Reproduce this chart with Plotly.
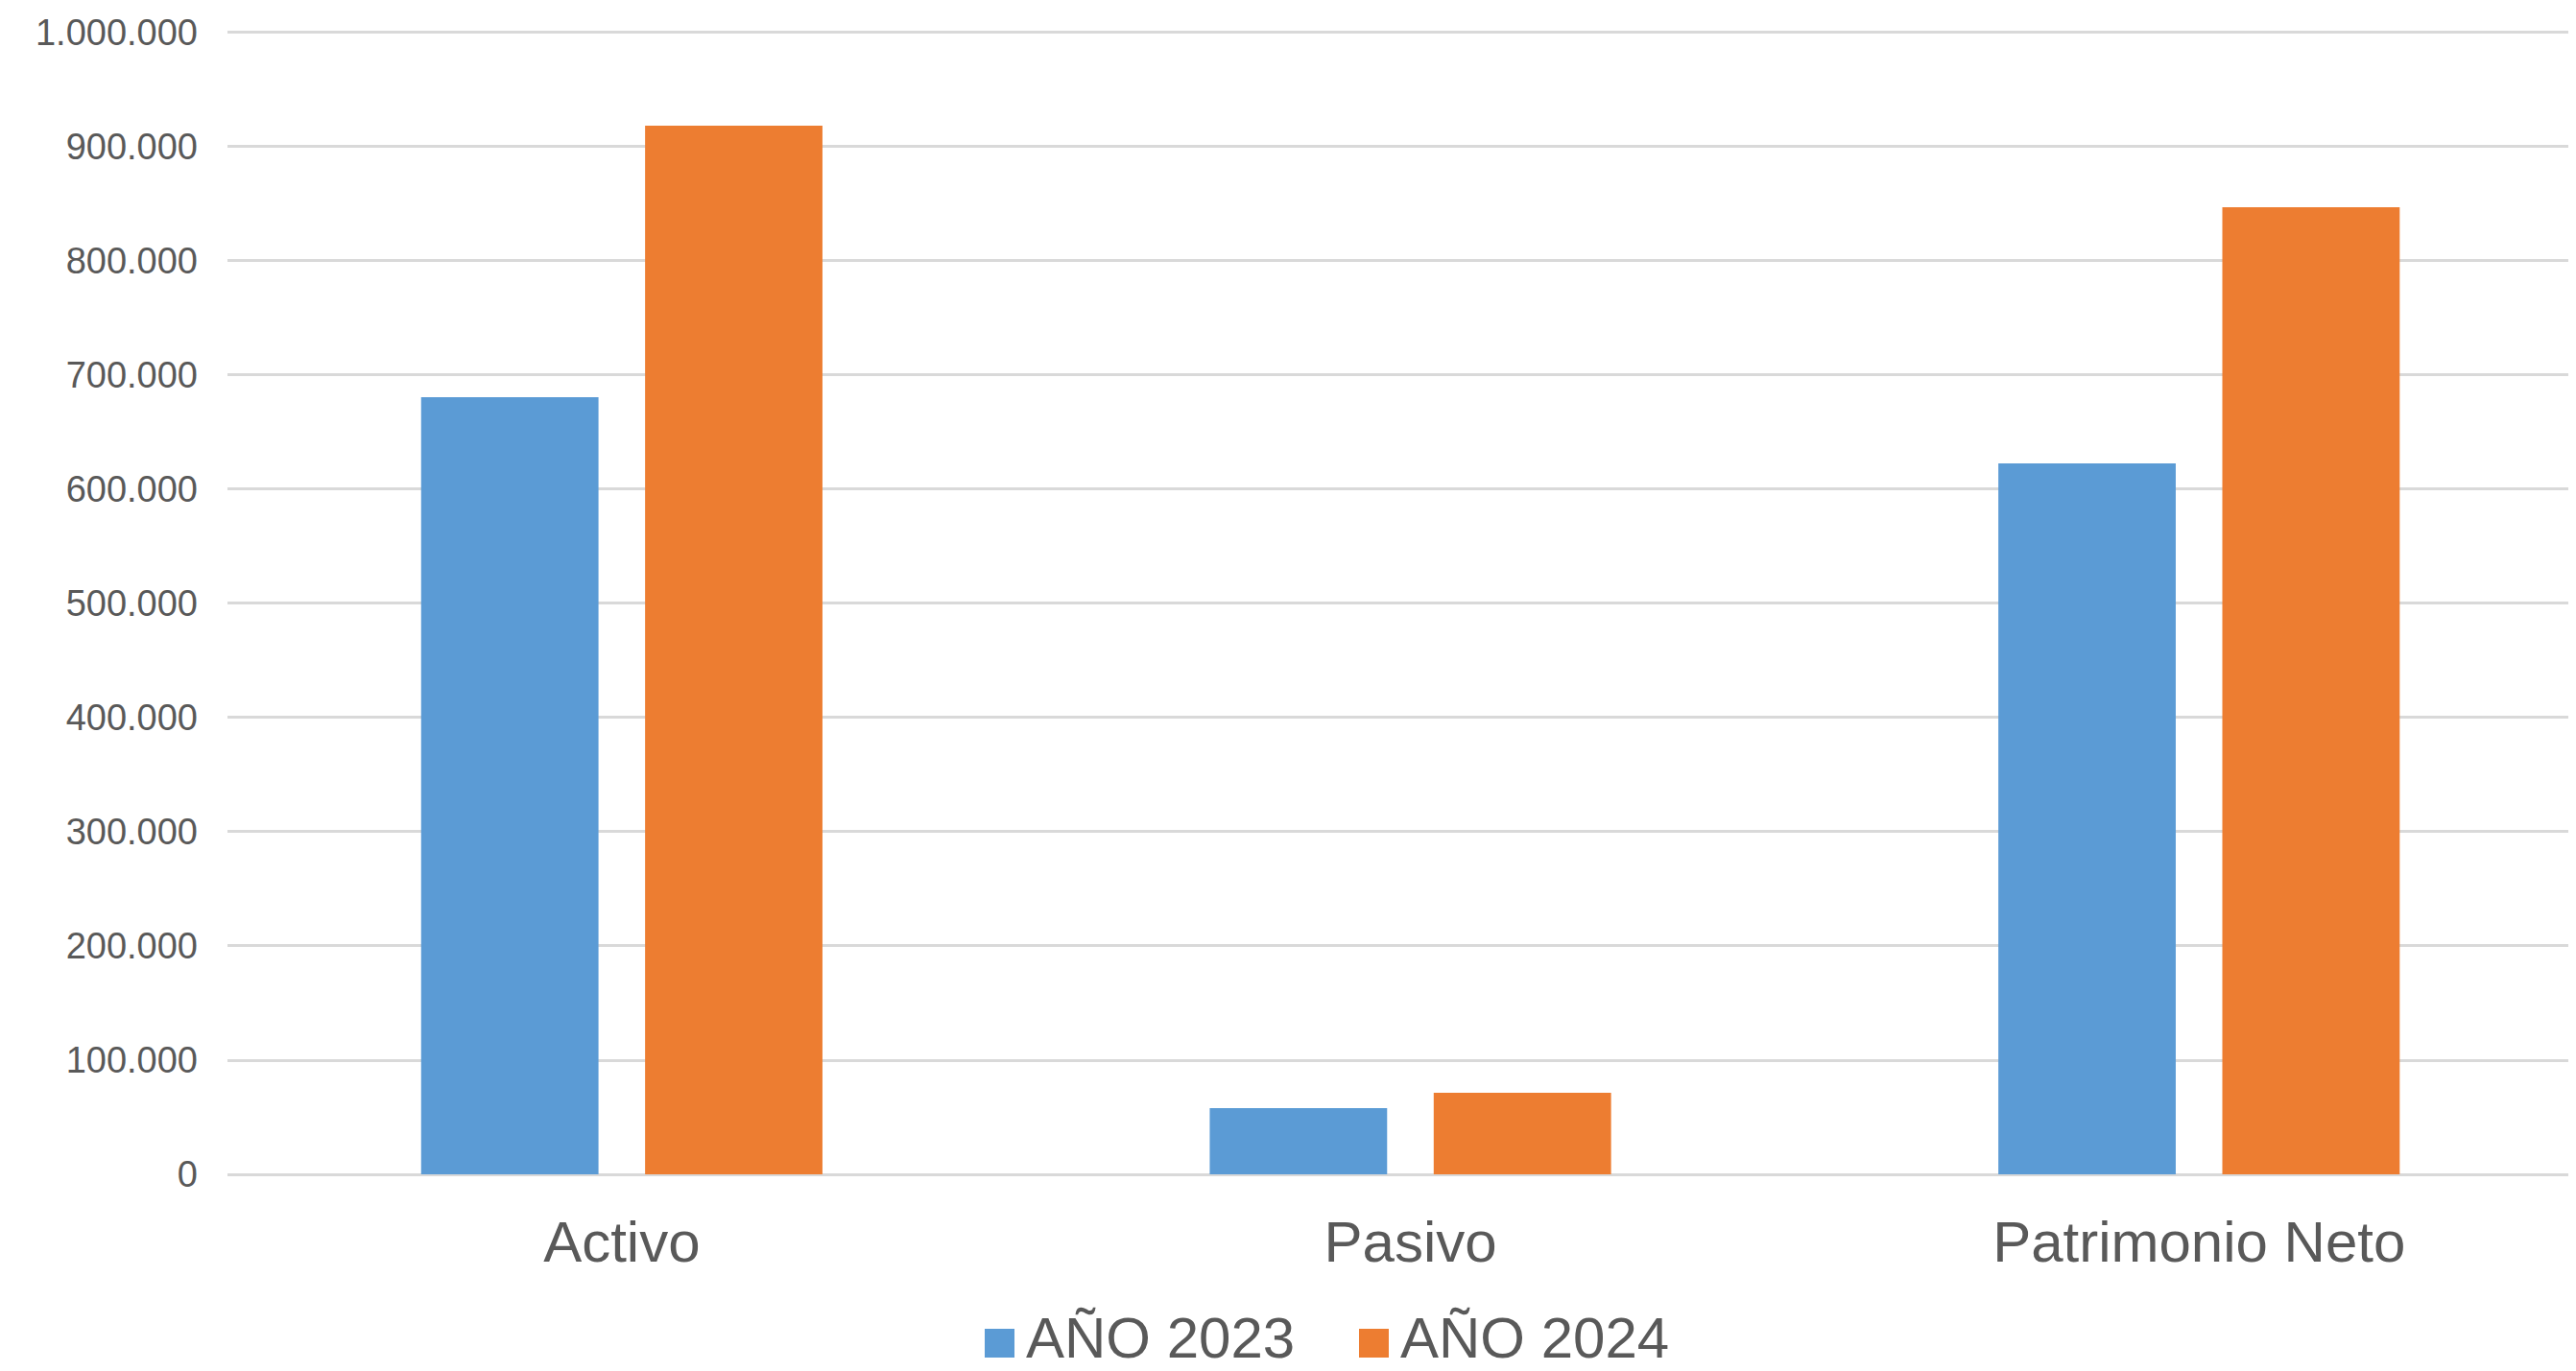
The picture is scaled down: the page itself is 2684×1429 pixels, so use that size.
import plotly.graph_objects as go

categories = ["Activo", "Pasivo", "Patrimonio Neto"]
series_names = ["AÑO 2023", "AÑO 2024"]
values_2023 = [680700, 58000, 622700]
values_2024 = [918400, 71400, 847000]
colors = ["#5B9BD5", "#ED7D31"]
y_ticks = list(range(0, 1000001, 100000))

OFF = 8  # default body margin of the html page
W, H = 2684 - OFF, 1429 - OFF
ML, MR, MT, MB = 237 - OFF, 0, 28 - OFF, 205
FONT = "Liberation Sans, Arial, sans-serif"
GRAY = "#595959"


def px(x):
    return (x - OFF - ML) / (W - ML - MR)


def py(y):
    return (H - MB - (y - OFF)) / (H - MT - MB)


fig = go.Figure()
for name, vals, col in zip(series_names, [values_2023, values_2024], colors):
    fig.add_trace(go.Bar(x=categories, y=vals, name=name, showlegend=False,
                         marker=dict(color=col, line=dict(width=0))))

# Legend drawn as squares + text (Excel-style large swatches)
legend_items = [(series_names[0], colors[0], 1026, 1070), (series_names[1], colors[1], 1416, 1460)]
for name, col, sx, tx in legend_items:
    fig.add_shape(type="rect", xref="paper", yref="paper",
                  x0=px(sx), x1=px(sx + 31), y0=py(1415), y1=py(1385),
                  fillcolor=col, line=dict(width=0))
    fig.add_annotation(xref="paper", yref="paper", x=px(tx - 2), y=py(1394),
                       xanchor="left", yanchor="middle", text=name, showarrow=False,
                       borderpad=0, font=dict(size=60, color=GRAY, family=FONT))

fig.update_layout(
    width=W, height=H, autosize=False,
    margin=dict(l=ML, r=MR, t=MT, b=MB, pad=0, autoexpand=False),
    paper_bgcolor="white", plot_bgcolor="white",
    barmode="group", bargap=0.432, bargroupgap=0.208,
    separators=",.",
    font=dict(family=FONT, color=GRAY),
    showlegend=False,
)
fig.update_xaxes(
    range=[-0.5, 2.478], showgrid=False, showline=False, zeroline=False,
    ticks="", tickfont=dict(size=60, color=GRAY, family=FONT), ticklabelstandoff=30,
)
fig.update_yaxes(
    range=[0, 1005000], tickvals=y_ticks, tickformat=",d",
    showgrid=True, gridcolor="#D9D9D9", gridwidth=3,
    zeroline=True, zerolinecolor="#D9D9D9", zerolinewidth=3,
    showline=False, ticks="", tickfont=dict(size=38, color=GRAY, family=FONT),
    ticklabelstandoff=30,
)

fig.write_html("out.html")
